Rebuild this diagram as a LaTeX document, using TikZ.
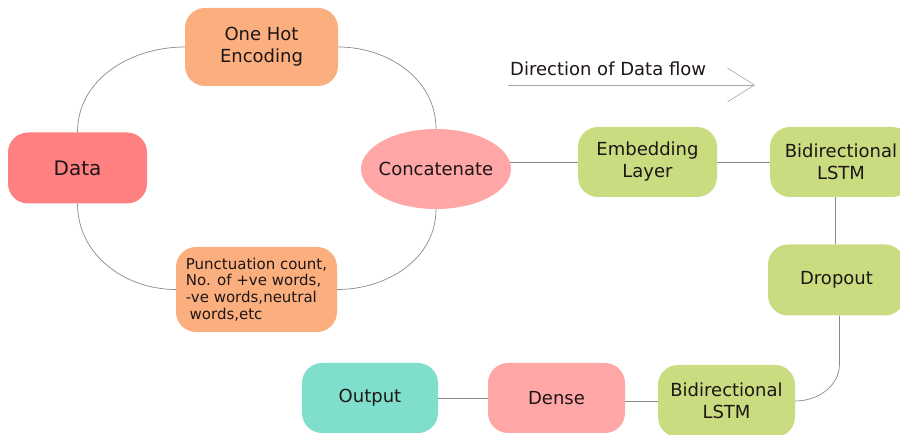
\documentclass[tikz,border=0pt]{standalone}
\usepackage{fontspec}
\setmainfont{DejaVu Sans}
\usetikzlibrary{arrows.meta,shapes.geometric,calc}

\definecolor{txt}{HTML}{1E1616}
\definecolor{datared}{HTML}{FF8080}
\definecolor{peach}{HTML}{FCAF7E}
\definecolor{pink}{HTML}{FFA6A6}
\definecolor{lime}{HTML}{CADC80}
\definecolor{teal}{HTML}{80DECC}
\definecolor{wire}{HTML}{8A8A8A}

\begin{document}
\begin{tikzpicture}[x=1pt,y=-1pt,
  box/.style={rounded corners=20pt, align=center, inner sep=0pt, text=txt,
              font=\fontsize{18}{22}\selectfont},
  conn/.style={draw=wire, line width=0.7pt},
  flow/.style={draw=gray!70, line width=0.6pt,
               -{Straight Barb[length=27pt,width=34pt,line width=0.6pt]}}]

\useasboundingbox (0,0) rectangle (900,435);

% input stage
\node[box, fill=datared, minimum width=139, minimum height=71,
      font=\fontsize{20}{24}\selectfont] (data) at (77.5,168) {Data};
\node[box, fill=peach, minimum width=153, minimum height=78] (onehot) at (261.5,47)
  {One Hot\\Encoding};
\node[box, fill=peach, minimum width=161, minimum height=85, align=left,
      font=\fontsize{15}{16.7}\selectfont] (punct) at (256.5,289.5)
  {Punctuation count,\\No. of +ve words,\\-ve words,neutral\\\hspace{0.25em}words,etc};
\node[ellipse, fill=pink, minimum width=150, minimum height=80, inner sep=0pt,
      text=txt, font=\fontsize{18}{22}\selectfont] (concat) at (436,169)
  {\makebox[0pt]{Concatenate}};

% network stage
\node[box, fill=lime, minimum width=139, minimum height=70] (embed) at (647.5,162)
  {Embedding\\Layer};
\node[box, fill=lime, minimum width=142, minimum height=70] (lstmA) at (841,162)
  {Bidirectional\\LSTM};
\node[box, fill=lime, minimum width=137, minimum height=71] (drop) at (836.5,280)
  {Dropout};
\node[box, fill=lime, minimum width=137, minimum height=72] (lstmB) at (726.5,401)
  {Bidirectional\\LSTM};
\node[box, fill=pink, minimum width=137, minimum height=70] (dense) at (556.5,398)
  {Dense};
\node[box, fill=teal, minimum width=136, minimum height=70] (out) at (370,398)
  {Output};

% direction marker
\node[anchor=base west, inner sep=0pt, text=txt, font=\fontsize{18}{22}\selectfont]
  (dirtxt) at (510,76) {Direction of Data flow};
\coordinate (fl) at (508,85);
\coordinate (fr) at (755,85);
\draw[flow] (fl) -- (fr);

% connectors
\draw[conn] (data.north) to[out=90,in=180] (onehot.west);
\draw[conn] (onehot.east) to[out=0,in=90] (concat.north);
\draw[conn] (data.south) to[out=-90,in=180] (punct.west);
\draw[conn] (punct.east) to[out=0,in=-90] (concat.south);
\draw[conn] (concat.5) -- (concat.5 -| embed.west);
\draw[conn] (embed.east) -- (lstmA.west);
\draw[conn] ($(drop.north |- lstmA.south)+(-1.5,0)$) -- ($(drop.north)+(-1.5,0)$);
\draw[conn] ($(drop.south)+(3,0)$) -- ++(0,48) to[out=-90,in=0] (lstmB.east);
\draw[conn] (lstmB.west) -- (lstmB.west -| dense.east);
\draw[conn] (dense.west) -- (out.east);

\end{tikzpicture}
\end{document}
